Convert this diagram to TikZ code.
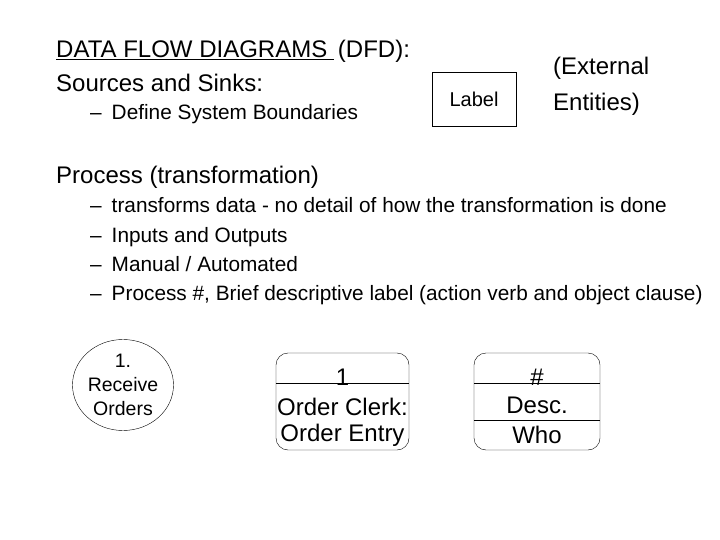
\documentclass[tikz,border=0pt]{standalone}
\usepackage{fontspec}
\setmainfont{Liberation Sans}
\usetikzlibrary{positioning, shapes.geometric}
\tikzset{
    base/.style={
        anchor=base west,
        inner sep=0pt
    },
    head/.style={
        base,
        font=\fontsize{24}{28}\selectfont
    },
    item/.style={
        base,
        font=\fontsize{20.8}{24}\selectfont
    },
    procbox/.style={
        draw,
        rounded corners=12pt,
        minimum width=133pt,
        minimum height=97pt
    },
    big/.style={
        font=\fontsize{24}{26}\selectfont,
        inner sep=0pt
    }
}
\begin{document}
\begin{tikzpicture}[x=1pt, y=-1pt]
    \useasboundingbox (0,0) rectangle (720,540);

    % Sources and sinks
    \node[head] (title) at (56,58) {\underline{DATA FLOW DIAGRAMS\ }\,(DFD):};
    \node[head] (sources) at (56,92) {Sources and Sinks:};
    \node[item] (bound) at (90,120) {--\hspace{10pt}Define System Boundaries};
    \node[draw, minimum width=84pt, minimum height=54pt, font=\fontsize{20}{22}\selectfont] (label) at (474,99) {Label};
    \node[head] (ext1) at (553,75) {(External};
    \node[head] (ext2) at (553,111) {Entities)};

    % Process
    \node[head] (process) at (56,184) {Process (transformation)};
    \node[item] (p1) at (90,213) {--\hspace{10pt}transforms data - no detail of how the transformation is done};
    \node[item] (p2) at (90,242) {--\hspace{10pt}Inputs and Outputs};
    \node[item] (p3) at (90,271) {--\hspace{10pt}Manual / Automated};
    \node[item] (p4) at (90,300) {--\hspace{10pt}Process \#, Brief descriptive label (action verb and object clause)};

    % Symbols
    \node[draw, ellipse, minimum width=101pt, minimum height=91pt, inner sep=0pt, align=center, font=\fontsize{19.5}{24}\selectfont] (recv) at (123,385) {1.\\Receive\\ Orders};

    \node[procbox] (entry) at (342.5,401.5) {};
    \draw (entry.west |- 0,383) -- (entry.east |- 0,383);
    \node[big] at (342.5,377) {1};
    \node[big] at (342.5,407) {Order Clerk:};
    \node[big] at (342.5,435) {Order Entry};

    \node[procbox, minimum width=126pt] (desc) at (537,401.5) {};
    \draw (desc.west |- 0,383) -- (desc.east |- 0,383);
    \draw (desc.west |- 0,420) -- (desc.east |- 0,420);
    \node[big] at (537,377) {\#};
    \node[big] at (537,405) {Desc.};
    \node[big] at (537,435) {Who};
\end{tikzpicture}
\end{document}
